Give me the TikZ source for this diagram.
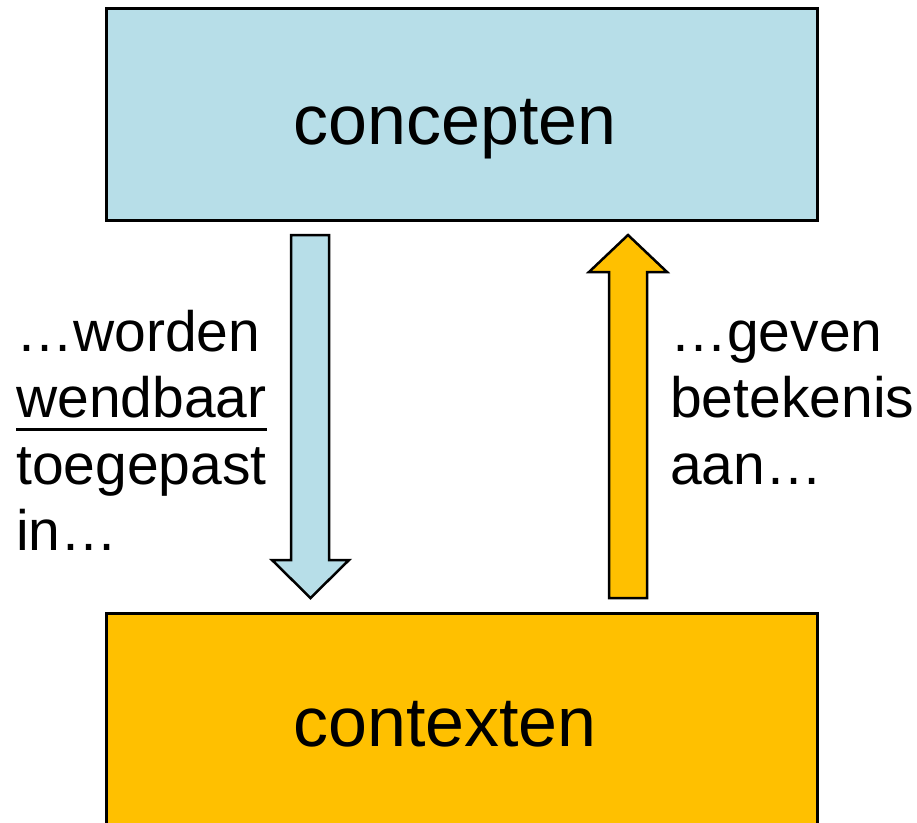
\documentclass[tikz,border=0pt]{standalone}
\usepackage{fontspec}
\setmainfont{Liberation Sans}
\definecolor{conblue}{HTML}{B7DEE8}
\definecolor{conorange}{HTML}{FFC000}
\begin{document}
\begin{tikzpicture}[x=1pt,y=-1pt,
  boxstyle/.style={draw=black,line width=3pt},
  blockarrow/.style={draw=black,line width=2.5pt,line join=miter},
  bigtext/.style={inner sep=0pt,anchor=base,font=\fontsize{70}{80}\selectfont},
  sidetext/.style={inner sep=0pt,anchor=base west,font=\fontsize{57}{66}\selectfont}]
\useasboundingbox (0,0) rectangle (917,822);
\clip (0,0) rectangle (917,822);
% boxes
\draw[boxstyle,fill=conblue] (106,8) rectangle (817,220);
\draw[boxstyle,fill=conorange] (106,613) rectangle (817,840);
\node[bigtext] (concepten) at (455,144) {concepten};
\node[bigtext] (contexten) at (445,746) {contexten};
% down arrow
\draw[blockarrow,fill=conblue] (291,235) -- (329,235) -- (329,560) -- (349,560) -- (310.5,598) -- (272,560) -- (291,560) -- cycle;
% up arrow
\draw[blockarrow,fill=conorange] (609,598) -- (647,598) -- (647,272) -- (667,272) -- (628,235) -- (589,272) -- (609,272) -- cycle;
% left text
\node[sidetext] (l1) at (16,351) {…worden};
\node[sidetext] (l2) at (16,417) {wendbaar};
\node[sidetext] (l3) at (16,484) {toegepast};
\node[sidetext] (l4) at (16,550) {in…};
\draw[line width=3pt] ([yshift=-12.5pt]l2.base west) -- ([yshift=-12.5pt]l2.base east);
% right text
\node[sidetext] (r1) at (670,351) {…geven};
\node[sidetext] (r2) at (670,417) {betekenis};
\node[sidetext] (r3) at (670,484) {aan…};
\end{tikzpicture}
\end{document}
